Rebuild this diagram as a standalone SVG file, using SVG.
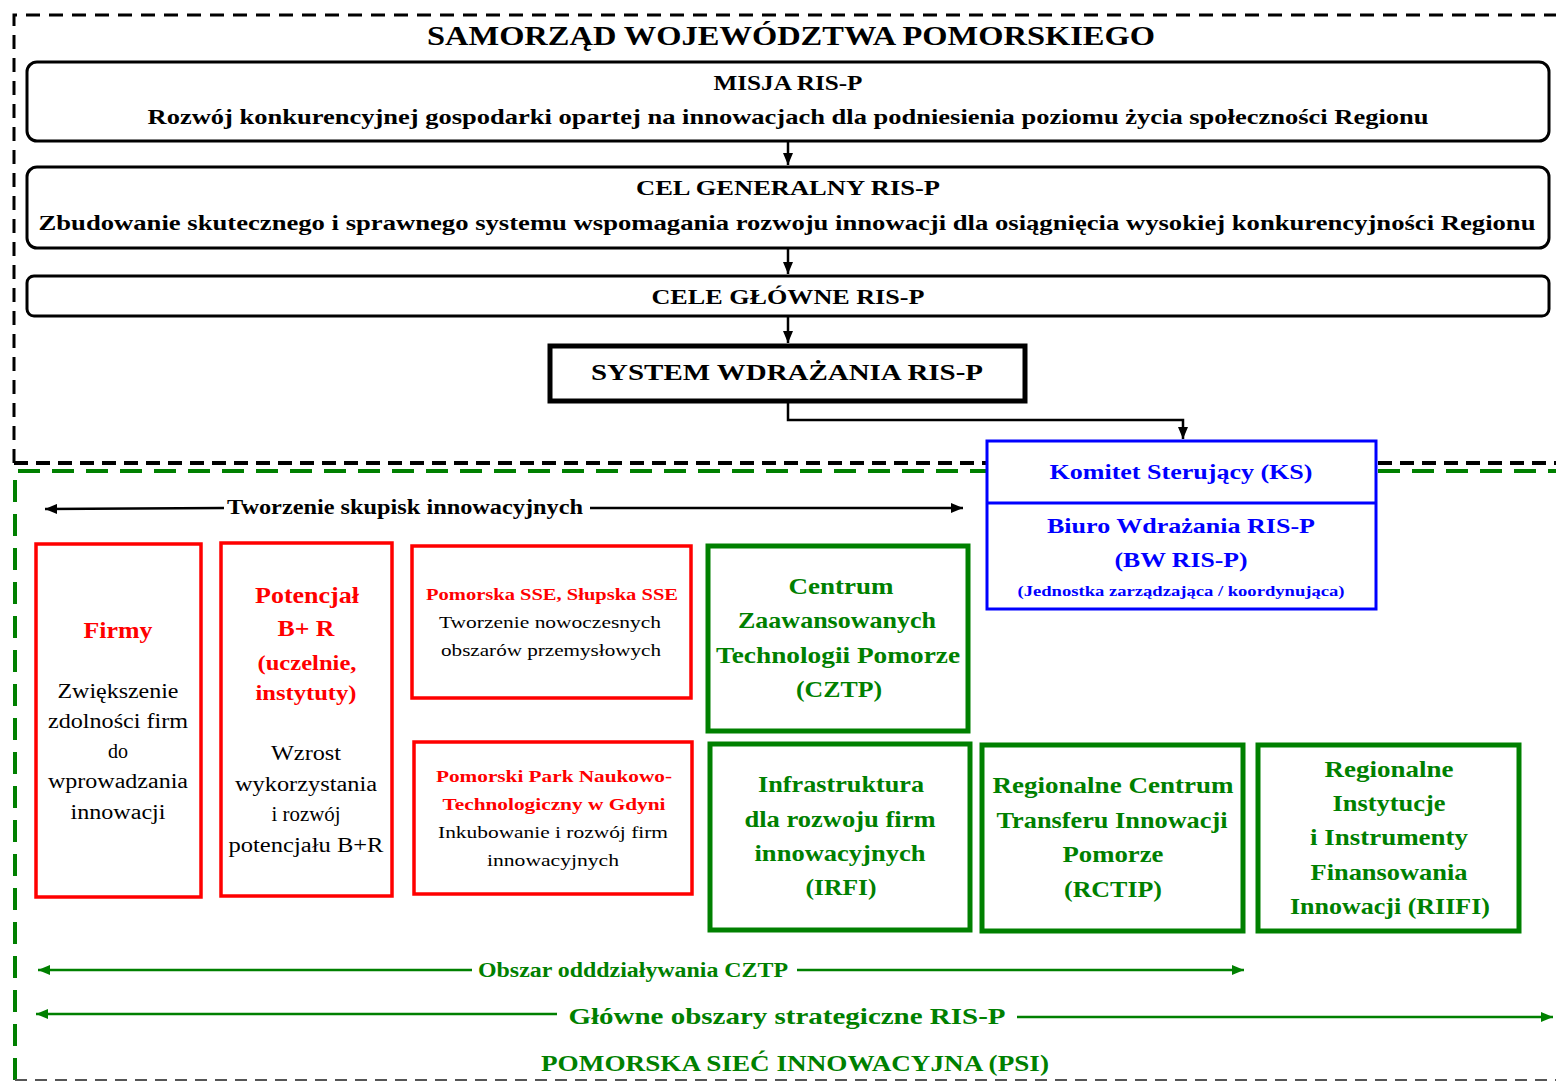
<svg xmlns="http://www.w3.org/2000/svg" width="1558" height="1082" viewBox="0 0 1558 1082">
<style>
text{font-family:"Liberation Serif","Times New Roman",serif;text-anchor:middle}
.b{font-weight:bold}
.k{fill:#000}
.r{fill:#ff0000}
.g{fill:#008000}
.u{fill:#0000ff}
.box{fill:#fff;stroke:#000;stroke-width:3}
.red{fill:#fff;stroke:#ff0000;stroke-width:3.5}
.grn{fill:#fff;stroke:#008000;stroke-width:5}
.con{fill:none;stroke-width:2.5}
</style>
<defs>
<marker id="ak" viewBox="0 0 12 10" refX="12" refY="5" markerWidth="12" markerHeight="10" markerUnits="userSpaceOnUse" orient="auto-start-reverse"><path d="M0,0 L12,5 L0,10 z" fill="#000"/></marker>
<marker id="ag" viewBox="0 0 12 10" refX="12" refY="5" markerWidth="12" markerHeight="10" markerUnits="userSpaceOnUse" orient="auto-start-reverse"><path d="M0,0 L12,5 L0,10 z" fill="#008000"/></marker>
</defs>
<rect width="1558" height="1082" fill="#fff"/>
<g id="frames">
<path d="M14,463 V15 H1556" fill="none" stroke="#000" stroke-width="3" stroke-dasharray="14,9"/>
<path d="M14,463 H1556" fill="none" stroke="#000" stroke-width="4" stroke-dasharray="14,8"/>
<path d="M15,1080 V471 H1556" fill="none" stroke="#008000" stroke-width="4" stroke-dasharray="22,12"/>
<path d="M15,1080 H1556" fill="none" stroke="#555" stroke-width="2" stroke-dasharray="12,8"/>
</g>
<text class="b k" x="791" y="45" font-size="27" textLength="728" lengthAdjust="spacingAndGlyphs">SAMORZĄD WOJEWÓDZTWA POMORSKIEGO</text>
<g id="connectors">
<line class="con" stroke="#000" x1="788" y1="142" x2="788" y2="165" marker-end="url(#ak)"/>
<line class="con" stroke="#000" x1="788" y1="249" x2="788" y2="274" marker-end="url(#ak)"/>
<line class="con" stroke="#000" x1="788" y1="317" x2="788" y2="343" marker-end="url(#ak)"/>
<path class="con" stroke="#000" d="M788,402 V420 H1183 V439" marker-end="url(#ak)"/>
<line class="con" stroke="#000" x1="45" y1="509" x2="224" y2="508" marker-start="url(#ak)"/>
<line class="con" stroke="#000" x1="590" y1="508" x2="963" y2="508" marker-end="url(#ak)"/>
<line class="con" stroke="#008000" x1="38" y1="970" x2="472" y2="970" marker-start="url(#ag)"/>
<line class="con" stroke="#008000" x1="797" y1="970" x2="1244" y2="970" marker-end="url(#ag)"/>
<line class="con" stroke="#008000" x1="36" y1="1014" x2="557" y2="1014" marker-start="url(#ag)"/>
<line class="con" stroke="#008000" x1="1017" y1="1017" x2="1553" y2="1017" marker-end="url(#ag)"/>
</g>
<g id="misja">
<rect class="box" x="27" y="62" width="1522" height="79" rx="10"/>
<text class="b k" x="788" y="90" font-size="22" textLength="149" lengthAdjust="spacingAndGlyphs">MISJA RIS-P</text>
<text class="b k" x="788" y="124" font-size="22" textLength="1281" lengthAdjust="spacingAndGlyphs">Rozwój konkurencyjnej gospodarki opartej na innowacjach dla podniesienia poziomu życia społeczności Regionu</text>
</g>
<g id="cel-generalny">
<rect class="box" x="27" y="167" width="1522" height="81" rx="10"/>
<text class="b k" x="788" y="195" font-size="22" textLength="304" lengthAdjust="spacingAndGlyphs">CEL GENERALNY RIS-P</text>
<text class="b k" x="787" y="230" font-size="22" textLength="1497" lengthAdjust="spacingAndGlyphs">Zbudowanie skutecznego i sprawnego systemu wspomagania rozwoju innowacji dla osiągnięcia wysokiej konkurencyjności Regionu</text>
</g>
<g id="cele-glowne">
<rect class="box" x="27" y="276" width="1522" height="40" rx="7"/>
<text class="b k" x="788" y="304" font-size="22" textLength="273" lengthAdjust="spacingAndGlyphs">CELE GŁÓWNE RIS-P</text>
</g>
<g id="system">
<rect x="550" y="346" width="475" height="55" fill="#fff" stroke="#000" stroke-width="5"/>
<text class="b k" x="787" y="380" font-size="24" textLength="392" lengthAdjust="spacingAndGlyphs">SYSTEM WDRAŻANIA RIS-P</text>
</g>
<g id="ks">
<rect x="987" y="441" width="389" height="168" fill="#fff" stroke="#0000ff" stroke-width="3"/>
<line x1="987" y1="503" x2="1376" y2="503" stroke="#0000ff" stroke-width="3"/>
<text class="b u" x="1181" y="479" font-size="22" textLength="263" lengthAdjust="spacingAndGlyphs">Komitet Sterujący (KS)</text>
<text class="b u" x="1181" y="533" font-size="22" textLength="268" lengthAdjust="spacingAndGlyphs">Biuro Wdrażania RIS-P</text>
<text class="b u" x="1181" y="567" font-size="22" textLength="133" lengthAdjust="spacingAndGlyphs">(BW RIS-P)</text>
<text class="b u" x="1181" y="596" font-size="15" textLength="327" lengthAdjust="spacingAndGlyphs">(Jednostka zarządzająca / koordynująca)</text>
</g>
<text class="b k" x="405" y="514" font-size="20" textLength="356" lengthAdjust="spacingAndGlyphs">Tworzenie  skupisk innowacyjnych</text>
<g id="firmy">
<rect class="red" x="36" y="544" width="165" height="353"/>
<text class="b r" x="118" y="638" font-size="23" textLength="69" lengthAdjust="spacingAndGlyphs">Firmy</text>
<text class="k" x="118" y="698" font-size="20" textLength="121" lengthAdjust="spacingAndGlyphs">Zwiększenie</text>
<text class="k" x="118" y="728" font-size="20" textLength="140" lengthAdjust="spacingAndGlyphs">zdolności firm</text>
<text class="k" x="118" y="758" font-size="20" textLength="20" lengthAdjust="spacingAndGlyphs">do</text>
<text class="k" x="118" y="788" font-size="20" textLength="140" lengthAdjust="spacingAndGlyphs">wprowadzania</text>
<text class="k" x="118" y="819" font-size="20" textLength="95" lengthAdjust="spacingAndGlyphs">innowacji</text>
</g>
<g id="potencjal">
<rect class="red" x="221" y="543" width="171" height="353"/>
<text class="b r" x="307" y="603" font-size="23" textLength="104" lengthAdjust="spacingAndGlyphs">Potencjał</text>
<text class="b r" x="306" y="636" font-size="23" textLength="57" lengthAdjust="spacingAndGlyphs">B+ R</text>
<text class="b r" x="307" y="670" font-size="22" textLength="99" lengthAdjust="spacingAndGlyphs">(uczelnie,</text>
<text class="b r" x="306" y="700" font-size="22" textLength="101" lengthAdjust="spacingAndGlyphs">instytuty)</text>
<text class="k" x="306" y="760" font-size="20" textLength="70" lengthAdjust="spacingAndGlyphs">Wzrost</text>
<text class="k" x="306" y="791" font-size="20" textLength="142" lengthAdjust="spacingAndGlyphs">wykorzystania</text>
<text class="k" x="306" y="821" font-size="20" textLength="69" lengthAdjust="spacingAndGlyphs">i rozwój</text>
<text class="k" x="306" y="852" font-size="20" textLength="155" lengthAdjust="spacingAndGlyphs">potencjału B+R</text>
</g>
<g id="sse">
<rect class="red" x="412" y="546" width="279" height="152"/>
<text class="b r" x="552" y="600" font-size="17" textLength="252" lengthAdjust="spacingAndGlyphs">Pomorska SSE, Słupska SSE</text>
<text class="k" x="550" y="628" font-size="17" textLength="222" lengthAdjust="spacingAndGlyphs">Tworzenie nowoczesnych</text>
<text class="k" x="551" y="656" font-size="17" textLength="220" lengthAdjust="spacingAndGlyphs">obszarów przemysłowych</text>
</g>
<g id="ppnt">
<rect class="red" x="414" y="742" width="278" height="152"/>
<text class="b r" x="554" y="782" font-size="17" textLength="236" lengthAdjust="spacingAndGlyphs">Pomorski Park Naukowo-</text>
<text class="b r" x="554" y="810" font-size="17" textLength="223" lengthAdjust="spacingAndGlyphs">Technologiczny w Gdyni</text>
<text class="k" x="553" y="838" font-size="17" textLength="230" lengthAdjust="spacingAndGlyphs">Inkubowanie i rozwój firm</text>
<text class="k" x="553" y="866" font-size="17" textLength="132" lengthAdjust="spacingAndGlyphs">innowacyjnych</text>
</g>
<g id="cztp">
<rect class="grn" x="708" y="546" width="260" height="185"/>
<text class="b g" x="841" y="594" font-size="23" textLength="105" lengthAdjust="spacingAndGlyphs">Centrum</text>
<text class="b g" x="837" y="628" font-size="23" textLength="198" lengthAdjust="spacingAndGlyphs">Zaawansowanych</text>
<text class="b g" x="838" y="663" font-size="23" textLength="244" lengthAdjust="spacingAndGlyphs">Technologii Pomorze</text>
<text class="b g" x="839" y="697" font-size="23" textLength="86" lengthAdjust="spacingAndGlyphs">(CZTP)</text>
</g>
<g id="irfi">
<rect class="grn" x="710" y="744" width="260" height="186"/>
<text class="b g" x="841" y="792" font-size="23" textLength="166" lengthAdjust="spacingAndGlyphs">Infrastruktura</text>
<text class="b g" x="840" y="827" font-size="23" textLength="191" lengthAdjust="spacingAndGlyphs">dla rozwoju firm</text>
<text class="b g" x="840" y="861" font-size="23" textLength="171" lengthAdjust="spacingAndGlyphs">innowacyjnych</text>
<text class="b g" x="841" y="895" font-size="23" textLength="71" lengthAdjust="spacingAndGlyphs">(IRFI)</text>
</g>
<g id="rctip">
<rect class="grn" x="982" y="745" width="261" height="186"/>
<text class="b g" x="1113" y="793" font-size="23" textLength="241" lengthAdjust="spacingAndGlyphs">Regionalne Centrum</text>
<text class="b g" x="1112" y="828" font-size="23" textLength="231" lengthAdjust="spacingAndGlyphs">Transferu Innowacji</text>
<text class="b g" x="1113" y="862" font-size="23" textLength="101" lengthAdjust="spacingAndGlyphs">Pomorze</text>
<text class="b g" x="1113" y="897" font-size="23" textLength="98" lengthAdjust="spacingAndGlyphs">(RCTIP)</text>
</g>
<g id="riifi">
<rect class="grn" x="1258" y="745" width="261" height="186"/>
<text class="b g" x="1389" y="777" font-size="23" textLength="129" lengthAdjust="spacingAndGlyphs">Regionalne</text>
<text class="b g" x="1389" y="811" font-size="23" textLength="113" lengthAdjust="spacingAndGlyphs">Instytucje</text>
<text class="b g" x="1389" y="845" font-size="23" textLength="158" lengthAdjust="spacingAndGlyphs">i Instrumenty</text>
<text class="b g" x="1389" y="880" font-size="23" textLength="157" lengthAdjust="spacingAndGlyphs">Finansowania</text>
<text class="b g" x="1390" y="914" font-size="23" textLength="200" lengthAdjust="spacingAndGlyphs">Innowacji (RIIFI)</text>
</g>
<text class="b g" x="633" y="977" font-size="20" textLength="310" lengthAdjust="spacingAndGlyphs">Obszar odddziaływania CZTP</text>
<text class="b g" x="787" y="1024" font-size="24" textLength="437" lengthAdjust="spacingAndGlyphs">Główne obszary strategiczne RIS-P</text>
<text class="b g" x="795" y="1071" font-size="24" textLength="508" lengthAdjust="spacingAndGlyphs">POMORSKA SIEĆ INNOWACYJNA (PSI)</text>
</svg>
